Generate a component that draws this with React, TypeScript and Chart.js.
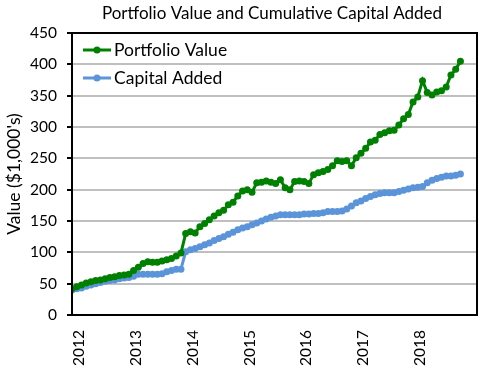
import React, { useEffect, useRef } from 'react';
import { Chart, registerables } from 'chart.js';

Chart.register(...registerables);

const TITLE = 'Portfolio Value and Cumulative Capital Added';
const Y_TITLE = "Value ($1,000's)";
const SERIES_NAMES = ['Portfolio Value', 'Capital Added'];
const YEAR_TICKS = [2012, 2013, 2014, 2015, 2016, 2017, 2018];
const Y_MIN = 0;
const Y_MAX = 450;
const Y_STEP = 50;

// monthly observations, first one mid-November 2011
const FIRST_YEAR = 2011;
const FIRST_MONTH = 11;
const X_MAX = 2019;

const portfolioValue = [
  42, 45, 48, 51, 53, 55, 56, 58, 60, 61, 63, 64, 65, 71, 76, 82, 85, 84, 84, 86,
  88, 90, 94, 99, 130, 133, 131, 141, 146, 152, 158, 163, 167, 176, 180, 190, 198, 200, 196, 211,
  212, 214, 212, 210, 216, 203, 200, 213, 214, 213, 210, 224, 227, 229, 232, 238, 246, 245, 246, 238,
  251, 258, 266, 276, 279, 288, 291, 294, 295, 303, 313, 320, 340, 348, 374, 355, 351, 356, 358, 364,
  383, 392, 405,
];

const capitalAdded = [
  40, 42, 43, 46, 48, 50, 52, 54, 55, 56, 58, 59, 60, 62, 65, 65, 65, 65, 65, 66,
  69, 71, 73, 73, 101, 104, 106, 109, 112, 115, 119, 122, 125, 129, 132, 136, 139, 141, 144, 147,
  150, 153, 156, 158, 160, 160, 160, 160, 160, 161, 161, 162, 162, 163, 165, 165, 165, 166, 169, 174,
  179, 182, 186, 189, 192, 194, 195, 195, 195, 197, 199, 201, 203, 204, 205, 211, 215, 218, 220, 222,
  222, 223, 225,
];

const GREEN = '#008000';
const BLUE = '#5B94D9';
const FONT_FAMILY = 'Lato, "Liberation Sans", sans-serif';
const TICK_SIZE = 15.5;
const TEXT_SIZE = 17.5;

const monthX = (i: number) => FIRST_YEAR + (FIRST_MONTH - 1 + i + 0.5) / 12;

const overlayPlugin = {
  id: 'overlay',
  afterDraw(chart: any) {
    const { ctx, chartArea } = chart;
    const { left, top, right, bottom } = chartArea;
    ctx.save();
    // plot frame
    ctx.strokeStyle = '#000';
    ctx.lineWidth = 2;
    ctx.strokeRect(left, top, right - left, bottom - top);
    // title
    ctx.fillStyle = '#000';
    ctx.font = `${TEXT_SIZE - 0.5}px ${FONT_FAMILY}`;
    ctx.textAlign = 'center';
    ctx.textBaseline = 'middle';
    ctx.fillText(TITLE, 272, 14);
    // legend
    ctx.font = `${TEXT_SIZE}px ${FONT_FAMILY}`;
    const colors = [GREEN, BLUE];
    SERIES_NAMES.forEach((name, k) => {
      const y = top + 17 + k * 28;
      const x0 = left + 11;
      const x1 = left + 39;
      ctx.strokeStyle = colors[k];
      ctx.lineWidth = 3;
      ctx.beginPath();
      ctx.moveTo(x0, y);
      ctx.lineTo(x1, y);
      ctx.stroke();
      ctx.fillStyle = colors[k];
      ctx.beginPath();
      ctx.arc((x0 + x1) / 2, y, 3.5, 0, Math.PI * 2);
      ctx.fill();
      ctx.fillStyle = '#000';
      ctx.textAlign = 'left';
      ctx.fillText(name, x1 + 3, y);
    });
    ctx.restore();
  },
};

export default function App() {
  const ref = useRef<HTMLCanvasElement>(null);
  useEffect(() => {
    if (!ref.current) return;
    const tickFont = { family: FONT_FAMILY, size: TICK_SIZE };
    const textFont = { family: FONT_FAMILY, size: TEXT_SIZE };
    const chart = new Chart(ref.current, {
      type: 'line',
      data: {
        datasets: [
          {
            label: SERIES_NAMES[0],
            data: portfolioValue.map((v, i) => ({ x: monthX(i), y: v })),
            borderColor: GREEN,
            backgroundColor: GREEN,
            pointBackgroundColor: GREEN,
            pointBorderWidth: 0,
            pointRadius: 3.5,
            borderWidth: 3,
            tension: 0,
          },
          {
            label: SERIES_NAMES[1],
            data: capitalAdded.map((v, i) => ({ x: monthX(i), y: v })),
            borderColor: BLUE,
            backgroundColor: BLUE,
            pointBackgroundColor: BLUE,
            pointBorderWidth: 0,
            pointRadius: 3.5,
            borderWidth: 3,
            tension: 0,
          },
        ],
      },
      options: {
        animation: false,
        responsive: false,
        layout: { padding: { top: 33, right: 8, left: 0, bottom: 0 } },
        plugins: {
          legend: { display: false },
          title: { display: false },
          tooltip: { enabled: false },
        },
        scales: {
          x: {
            type: 'linear',
            min: monthX(0),
            max: X_MAX,
            afterBuildTicks: (s: any) => {
              s.ticks = YEAR_TICKS.map((v) => ({ value: v }));
            },
            afterFit: (s: any) => {
              s.height = 58;
            },
            grid: { display: false, drawTicks: false },
            border: { color: '#000', width: 2 },
            ticks: {
              minRotation: 90,
              maxRotation: 90,
              padding: 15,
              autoSkip: false,
              font: tickFont,
              color: '#000',
              callback: (v: any) => String(v),
            },
          },
          y: {
            min: Y_MIN,
            max: Y_MAX,
            afterFit: (s: any) => {
              s.width = 72;
            },
            ticks: { stepSize: Y_STEP, padding: 10, font: tickFont, color: '#000' },
            grid: { color: '#BFBFBF', lineWidth: 2, tickColor: '#000', tickLength: 5 },
            border: { color: '#000', width: 2 },
            title: { display: true, text: Y_TITLE, font: textFont, color: '#000', padding: { top: 4, bottom: 0 } },
          },
        },
      },
      plugins: [overlayPlugin],
    });
    return () => chart.destroy();
  }, []);
  return (
    <div style={{ position: 'absolute', left: 0, top: 0, width: 485, height: 373, background: '#fff' }}>
      <canvas ref={ref} width={485} height={373} style={{ display: 'block' }} />
    </div>
  );
}
